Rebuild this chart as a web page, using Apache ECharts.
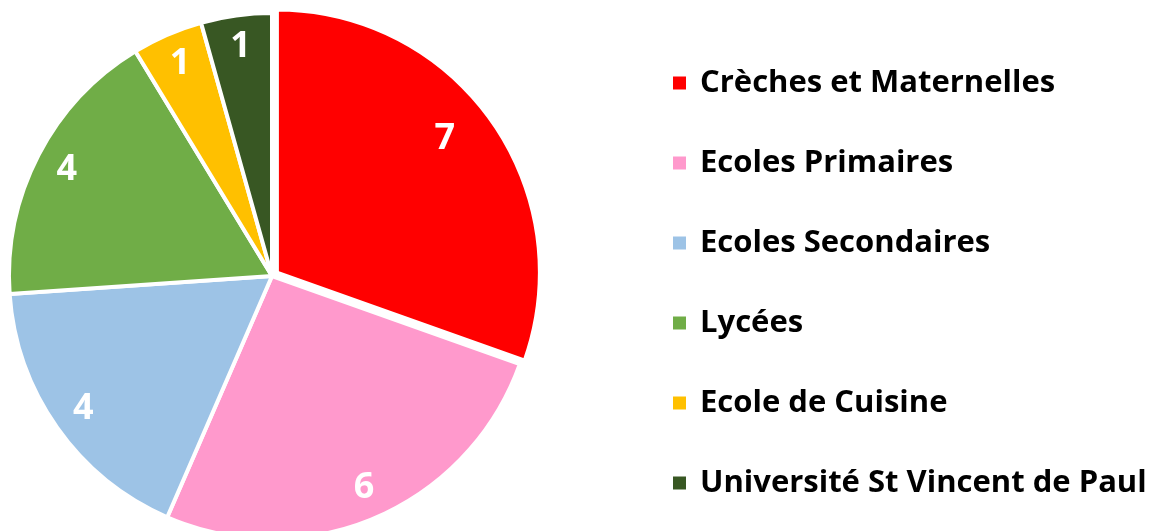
<!DOCTYPE html>
<html>
<head>
<meta charset="utf-8">
<script src="https://cdn.jsdelivr.net/npm/echarts@6/dist/echarts.min.js"></script>
<style>
  html, body { margin: 0; padding: 0; background: #fff; }
  #chart { width: 1153px; height: 531px; }
</style>
</head>
<body>
<div id="chart"></div>
<script>
// données du graphique
const categories = ['Crèches et Maternelles', 'Ecoles Primaires', 'Ecoles Secondaires', 'Lycées', 'Ecole de Cuisine', 'Université St Vincent de Paul'];
const values = [7, 6, 4, 4, 1, 1];
const colors = ['#FF0000', '#FF99CC', '#9DC3E6', '#70AD47', '#FFC000', '#385723'];

const chart = echarts.init(document.getElementById('chart'));

const pieData = categories.map((name, i) => ({
    name: name,
    value: values[i],
    selected: i === 0,
    itemStyle: { color: colors[i] }
}));

const options = {
    animation: false,
    legend: {
        orient: 'vertical',
        left: 671,
        top: 66,
        padding: 0,
        icon: 'rect',
        itemWidth: 15,
        itemHeight: 15,
        itemGap: 46,
        selectedMode: false,
        data: categories,
        textStyle: {
            fontFamily: 'Open Sans',
            fontWeight: 'bold',
            fontSize: 31,
            lineHeight: 34,
            color: '#000',
            padding: [0, 0, 0, 8]
        }
    },
    series: [
        {
            type: 'pie',
            center: [272, 276],
            radius: 263,
            startAngle: 90,
            selectedMode: 'single',
            selectedOffset: 6,
            itemStyle: { borderColor: '#fff', borderWidth: 4 },
            label: { show: false },
            labelLine: { show: false },
            emphasis: { disabled: true },
            data: pieData
        },
        {
            // série transparente pour placer les étiquettes près du bord
            type: 'pie',
            silent: true,
            center: [272, 276],
            radius: [193, 263],
            startAngle: 90,
            itemStyle: { color: 'transparent', borderWidth: 0 },
            label: {
                show: true,
                position: 'inside',
                formatter: '{c}',
                color: '#fff',
                fontFamily: 'Open Sans',
                fontWeight: 'bold',
                fontSize: 36
            },
            labelLine: { show: false },
            emphasis: { disabled: true },
            data: categories.map((name, i) => ({
                name: name,
                value: values[i],
                label: i === 0 ? { offset: [-16, -4] } : {}
            }))
        }
    ]
};

chart.setOption(options);
</script>
</body>
</html>
